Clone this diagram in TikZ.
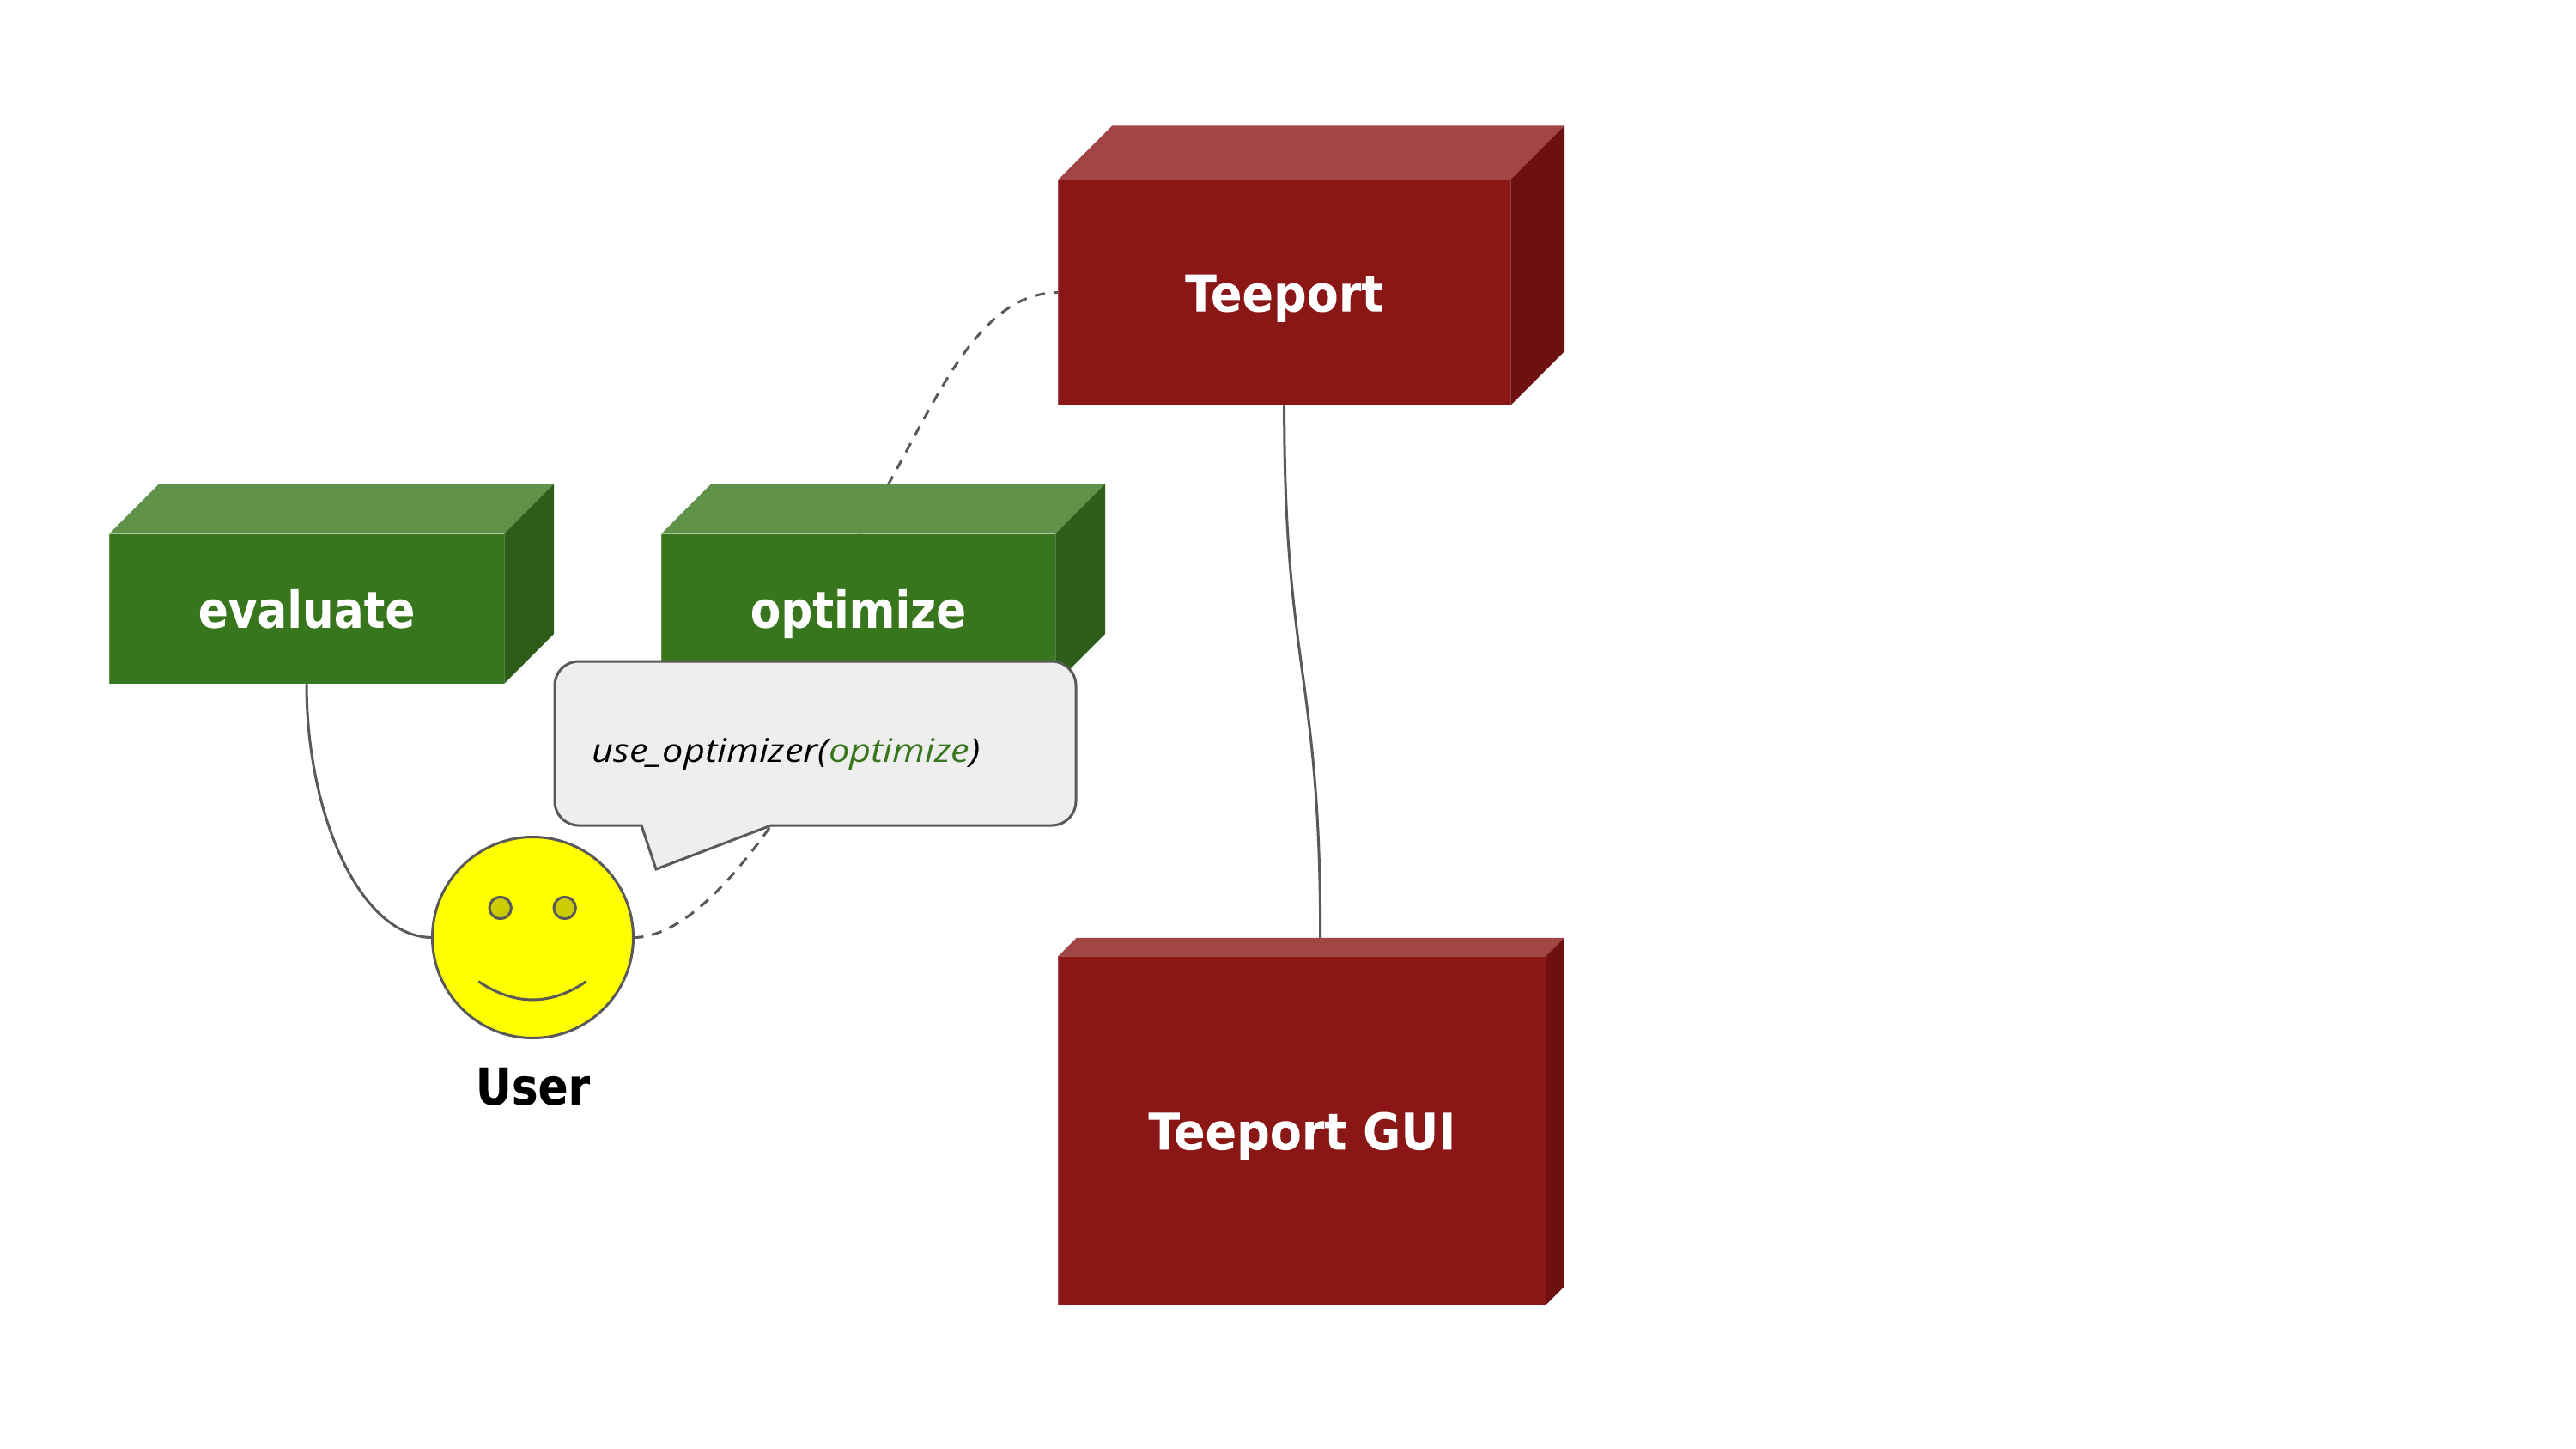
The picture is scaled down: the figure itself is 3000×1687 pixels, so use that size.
\documentclass[tikz,border=0pt]{standalone}
\usepackage{fontspec}
\usetikzlibrary{backgrounds}
\newfontfamily\labfont[FakeStretch=0.875,FakeBold=0.3]{DejaVu Sans}
\newfontfamily\labwide[FakeStretch=0.915,FakeBold=0.3]{DejaVu Sans}
\newfontfamily\handfont[FakeStretch=1.14]{Open Sans}
\definecolor{greenfront}{HTML}{38761D}
\definecolor{greentop}{HTML}{60924A}
\definecolor{greenside}{HTML}{2D5E17}
\definecolor{redfront}{HTML}{8A1616}
\definecolor{redtop}{HTML}{A24545}
\definecolor{redside}{HTML}{6E1010}
\definecolor{edgegrey}{HTML}{595959}
\definecolor{smileyyellow}{HTML}{FFFF00}
\definecolor{eyeyellow}{HTML}{CCCC00}
\definecolor{bubblefill}{HTML}{EEEEEE}
\tikzset{
  cubeface/.style={inner sep=0pt,outer sep=0pt,text=white,draw=white,draw opacity=.22,line width=.5pt,
    font=\fontsize{29.5}{30}\selectfont\labfont\bfseries,text height=22pt,text depth=0pt},
  widelabel/.style={font=\fontsize{29.5}{30}\selectfont\labwide\bfseries},
  conn/.style={draw=edgegrey,line width=1.5pt},
  dashconn/.style={conn,dash pattern=on 6pt off 5pt},
  facepart/.style={draw=edgegrey,line width=1.5pt},
  bubble/.style={draw=edgegrey,line width=1.5pt,fill=bubblefill},
}
\newcommand{\cubebox}[9]{%
  \fill[#7top] (#2,#3) -- (#2+#6,#3-#6) -- (#4+#6,#3-#6) -- (#4,#3) -- cycle;
  \fill[#7side] (#4,#3) -- (#4+#6,#3-#6) -- (#4+#6,#5-#6) -- (#4,#5) -- cycle;
  \node[cubeface,#9,fill=#7front,minimum width={(#4-#2)*0.5pt},minimum height={(#5-#3)*0.5pt}]
    (#1) at ({(#2+#4)/2},{(#3+#5)/2}) {#8};
}
\begin{document}
\begin{tikzpicture}[x=0.5pt,y=-0.5pt]
\useasboundingbox (0,0) rectangle (3000,1687);
\cubebox{evaluate}{127}{621.5}{587}{796}{58}{green}{evaluate}{}
\cubebox{optimize}{770}{621.5}{1229}{796}{58}{green}{optimize}{}
\cubebox{teeport}{1232.3}{209.3}{1759}{472}{63}{red}{Teeport}{widelabel}
\cubebox{gui}{1232.3}{1113.3}{1800.3}{1519.3}{21.4}{red}{Teeport GUI}{widelabel}
\coordinate (guitop) at (1537.7,1092);
% speech bubble
\draw[bubble] (674,770) -- (1225,770) .. controls (1240.5,770) and (1253,782.5) .. (1253,798)
  -- (1253,933) .. controls (1253,948.5) and (1240.5,961) .. (1225,961)
  -- (898,961) -- (764,1012) -- (747,961) -- (674,961)
  .. controls (658.5,961) and (646,948.5) .. (646,933)
  -- (646,798) .. controls (646,782.5) and (658.5,770) .. (674,770) -- cycle;
\node[inner sep=0pt,anchor=base west,font=\fontsize{19}{20}\selectfont\handfont\itshape] (msg) at (689,887)
  {use\_optimizer(\textcolor{greenfront}{optimize})};
% user
\node[circle,draw=edgegrey,line width=1.5pt,fill=smileyyellow,minimum size=117pt,inner sep=0pt,outer sep=0pt] (smiley) at (620.5,1091.5) {};
\node[circle,facepart,fill=eyeyellow,minimum size=12.7pt,inner sep=0pt] (eyeL) at (582.7,1057) {};
\node[circle,facepart,fill=eyeyellow,minimum size=12.7pt,inner sep=0pt] (eyeR) at (657.7,1057) {};
\draw[facepart] (557.3,1142.7) .. controls (599,1171) and (641.5,1171) .. (682.7,1142.7);
\node[inner sep=0pt,anchor=base,font=\fontsize{29.5}{30}\selectfont\labfont\bfseries] (user) at (620.5,1286) {User};
% connectors, behind everything
\begin{pgfonlayer}{background}
\fill[white] (0,0) rectangle (3000,1687);
\draw[conn] (evaluate.south) .. controls (357,950) and (420,1091.5) .. (smiley.west);
\draw[dashconn] (smiley.east) .. controls (825,1091.5) and (925,930) .. (optimize.south);
\draw[dashconn] (optimize.north) .. controls (1078,505) and (1125,340.7) .. (teeport.west);
\draw[conn] (teeport.south) .. controls (1495.6,782) and (1537.7,782) .. (guitop);
\end{pgfonlayer}
\end{tikzpicture}
\end{document}
